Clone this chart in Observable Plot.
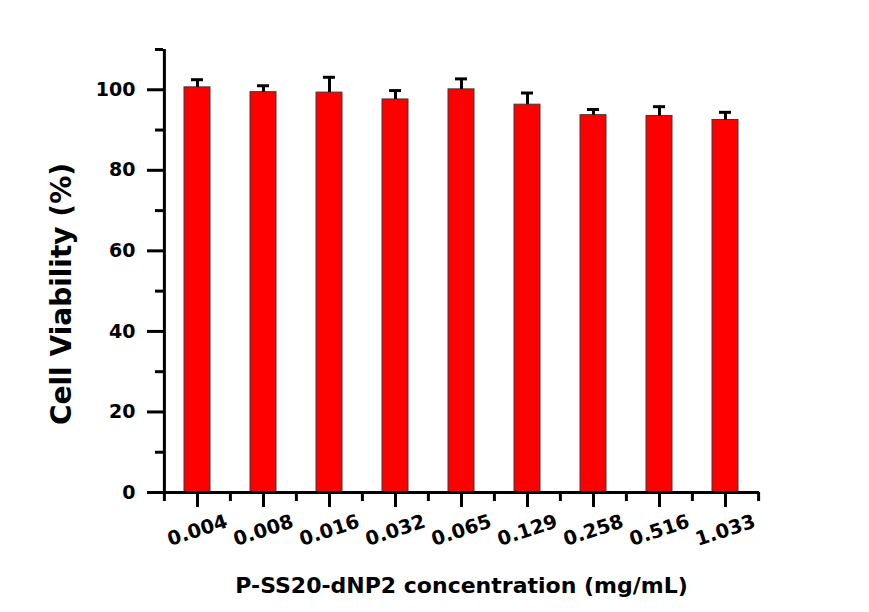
<!DOCTYPE html>
<html>
<head>
<meta charset="utf-8">
<script src="https://cdn.jsdelivr.net/npm/d3@7"></script>
<script src="https://cdn.jsdelivr.net/npm/@observablehq/plot@0.6"></script>
<style>
  html, body { margin: 0; padding: 0; background: #fff; }
</style>
</head>
<body>
<div id="chart"></div>
<script>
const concentrations = ["0.004", "0.008", "0.016", "0.032", "0.065", "0.129", "0.258", "0.516", "1.033"];
const viability = [100.6, 99.4, 99.3, 97.6, 100.1, 96.3, 93.7, 93.5, 92.5];
const errors = [1.9, 1.6, 3.8, 2.2, 2.6, 2.9, 1.4, 2.3, 1.9];
const yMajorTicks = [0, 20, 40, 60, 80, 100];
const yMinorTicks = [10, 30, 50, 70, 90, 110];
const xTitle = "P-SS20-dNP2 concentration (mg/mL)";
const yTitle = "Cell Viability (%)";

const data = concentrations.map((c, i) => ({conc: c, mean: viability[i], err: errors[i]}));

const W = 869, H = 612, mL = 163, mR = 110, mT = 49, mB = 120;
const padIn = 0.6, padOut = 0.3;
const step = (W - mL - mR) / (concentrations.length - padIn + 2 * padOut);
const font = "'DejaVu Sans', sans-serif";
const txt = {fontWeight: "bold", fill: "#000"};

const chart = Plot.plot({
  width: W, height: H,
  marginLeft: mL, marginRight: mR, marginTop: mT, marginBottom: mB,
  style: {fontFamily: font, fontWeight: "bold", color: "#000", background: "#fff", overflow: "visible"},
  x: {type: "band", domain: concentrations, paddingInner: padIn, paddingOuter: padOut, label: null},
  y: {domain: [0, 110], label: null},
  marks: [
    Plot.barY(data, {x: "conc", y: "mean", fill: "#ff0000", stroke: "#3a3a3a", strokeWidth: 1}),
    Plot.ruleX(data, {x: "conc", y1: "mean", y2: d => d.mean + d.err, stroke: "#000", strokeWidth: 3}),
    Plot.tickY(data, {x: "conc", y: d => d.mean + d.err, stroke: "#000", strokeWidth: 3, insetLeft: 7, insetRight: 7}),
    Plot.ruleY([0], {stroke: "#000", strokeWidth: 3}),
    Plot.ruleX([concentrations[0]], {x: d => d, dx: -step / 2, stroke: "#000", strokeWidth: 3}),
    Plot.axisY(yMajorTicks, {tickSize: 16, tickPadding: 12, fontSize: 19, fontWeight: "bold", strokeWidth: 3, label: null}),
    Plot.axisY(yMinorTicks, {tickSize: 8, tickFormat: () => "", strokeWidth: 3, label: null}),
    Plot.axisX({tickSize: 15, tickFormat: () => "", strokeWidth: 3, label: null}),
    Plot.ruleX(concentrations, {x: d => d, dx: -step / 2, y1: 0, y2: 0, insetTop: 9, stroke: "#000", strokeWidth: 3}),
    Plot.ruleX([concentrations[concentrations.length - 1]], {x: d => d, dx: step / 2, y1: 0, y2: 0, insetTop: 9, stroke: "#000", strokeWidth: 3}),
    Plot.text(concentrations, {x: d => d, text: d => d, frameAnchor: "bottom", dy: 38, rotate: -18,
      textAnchor: "middle", lineAnchor: "middle", fontSize: 19.5, ...txt}),
    Plot.text([xTitle], {text: d => d, frameAnchor: "bottom", dy: 100, lineAnchor: "bottom", fontSize: 22, ...txt}),
    Plot.text([yTitle], {text: d => d, frameAnchor: "left", dx: -101, dy: 23, rotate: -90,
      textAnchor: "middle", lineAnchor: "middle", fontSize: 28, ...txt})
  ]
});
document.getElementById("chart").appendChild(chart);
</script>
</body>
</html>
